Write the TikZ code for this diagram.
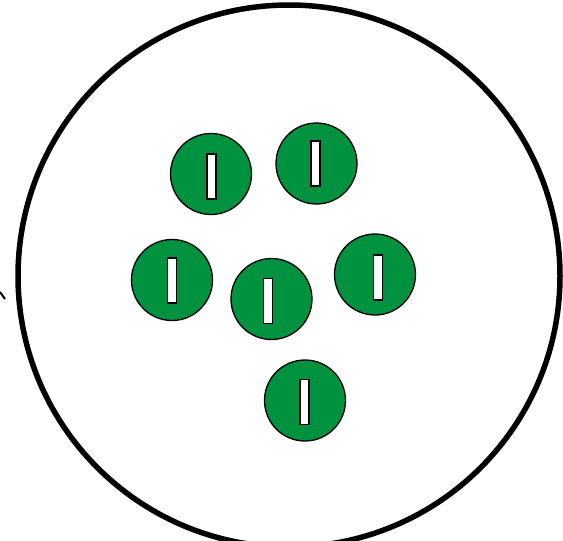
\documentclass[tikz,border=0pt]{standalone}
\definecolor{cellgreen}{RGB}{0,146,63}
\tikzset{
  cell/.style={circle,draw=black,line width=1.3pt,fill=cellgreen,minimum size=81pt,inner sep=0pt},
  slot/.style={rectangle,draw=black,line width=1.3pt,fill=white,minimum width=9pt,minimum height=45pt,inner sep=0pt}
}
\begin{document}
\begin{tikzpicture}[x=1pt,y=-1pt]
 \useasboundingbox (0,0) rectangle (563,541);
 \begin{scope}
  % outer dish
  \draw[line width=5.5pt] (289,276) circle (271);
  \draw[line width=2pt] (0,292) -- (5,299);
 \end{scope}
 \begin{scope}
  % cells and their slots
  \foreach \nm/\cx/\cy/\sx/\sy in {a/211/174/211.5/176.5, b/316.5/163.5/315.5/163.5, c/172/280/172/280.5, d/271.5/299/268/301, e/375/274.5/378/277.5, f/305/400.5/304.5/402}{
   \node[cell] (cell-\nm) at (\cx,\cy) {};
   \node[slot] (slot-\nm) at (\sx,\sy) {};
  }
 \end{scope}
\end{tikzpicture}
\end{document}
